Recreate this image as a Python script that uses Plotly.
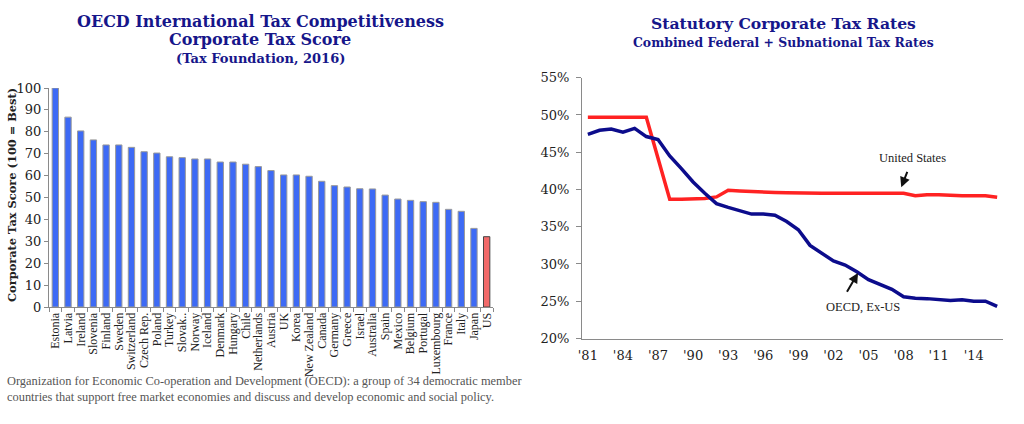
import plotly.graph_objects as go

# ---------------- Data ----------------
countries = ["Estonia", "Latvia", "Ireland", "Slovenia", "Finland", "Sweden", "Switzerland",
             "Czech Rep.", "Poland", "Turkey", "Slovak..", "Norway", "Iceland", "Denmark",
             "Hungary", "Chile", "Netherlands", "Austria", "UK", "Korea", "New Zealand",
             "Canada", "Germany", "Greece", "Israel", "Australia", "Spain", "Mexico",
             "Belgium", "Portugal", "Luxembourg", "France", "Italy", "Japan", "US"]
scores = [100, 86.7, 80.4, 76.3, 74.0, 74.0, 72.9, 70.9, 70.3, 68.6, 68.2, 67.6, 67.6, 66.2,
          66.2, 65.2, 64.1, 62.3, 60.3, 60.3, 59.7, 57.4, 55.4, 54.8, 54.0, 53.9, 51.1, 49.3,
          48.7, 48.1, 47.8, 44.6, 43.7, 35.9, 32.1]

years = list(range(1981, 2017))
us_rate = [49.7, 49.7, 49.7, 49.7, 49.7, 49.7, 44.2, 38.7, 38.7, 38.7, 38.8, 39.0, 39.9,
           39.8, 39.7, 39.6, 39.6, 39.55, 39.5, 39.5, 39.5, 39.5, 39.5, 39.5, 39.5, 39.5,
           39.5, 39.5, 39.15, 39.3, 39.3, 39.2, 39.15, 39.15, 39.15, 38.95]
oecd_rate = [47.4, 47.95, 48.1, 47.7, 48.2, 47.1, 46.7, 44.5, 42.8, 41.0, 39.5, 38.1, 37.6,
             37.1, 36.7, 36.7, 36.55, 35.7, 34.6, 32.5, 31.5, 30.4, 29.85, 28.95, 27.9, 27.3,
             26.6, 25.6, 25.4, 25.35, 25.2, 25.1, 25.2, 25.0, 25.0, 24.3]
x_tick_years = [1981, 1984, 1987, 1990, 1993, 1996, 1999, 2002, 2005, 2008, 2011, 2014]
x_tick_labels = ["'81", "'84", "'87", "'90", "'93", "'96", "'99", "'02", "'05", "'08", "'11", "'14"]
y_ticks_pct = [20, 25, 30, 35, 40, 45, 50, 55]

W, H = 1024, 424
NAVY = "#16168a"
SERIF = "DejaVu Serif"
TSERIF = "Liberation Serif"

def px(x):
    return x / W

def py(y):
    return 1 - y / H

bar_colors = ["#3d6af5"] * (len(countries) - 1) + ["#f26a6a"]
bar_lines = ["#9a9a9a"] * (len(countries) - 1) + ["#444444"]

fig = go.Figure()
fig.add_trace(go.Bar(x=countries, y=scores, marker=dict(color=bar_colors,
                     line=dict(color=bar_lines, width=1)), width=0.5,
                     xaxis="x", yaxis="y", showlegend=False))
fig.add_trace(go.Scatter(x=years, y=us_rate, mode="lines", line=dict(color="#ff2222", width=3.5),
                         xaxis="x2", yaxis="y2", showlegend=False))
fig.add_trace(go.Scatter(x=years, y=oecd_rate, mode="lines", line=dict(color="#0c0c8c", width=3.5),
                         xaxis="x2", yaxis="y2", showlegend=False))

axis_grey = "#8a8a8a"
fig.update_layout(
    width=W, height=H, margin=dict(l=0, r=0, t=0, b=0, autoexpand=False),
    paper_bgcolor="white", plot_bgcolor="white",
    xaxis=dict(domain=[px(49), px(493)], anchor="y", type="category", tickangle=-90,
               tickmode="linear", tick0=0, dtick=1,
               tickfont=dict(family=TSERIF, size=12, color="#222"), showline=True,
               linecolor=axis_grey, linewidth=1, ticks="outside", ticklen=4, tickcolor=axis_grey,
               tickson="boundaries", showgrid=False, range=[-0.5, 34.5], automargin=False),
    yaxis=dict(domain=[py(307), py(88)], anchor="x", range=[0, 100], dtick=10,
               tickfont=dict(family=SERIF, size=13, color="#222"), showline=True,
               linecolor=axis_grey, linewidth=1, ticks="outside", ticklen=4, tickcolor=axis_grey,
               showgrid=False, zeroline=False, automargin=False),
    xaxis2=dict(domain=[px(582), px(1003)], anchor="y2", range=[1980.5, 2016.5],
                tickvals=x_tick_years, ticktext=x_tick_labels, ticklabelstandoff=5,
                tickfont=dict(family=SERIF, size=13, color="#222"), showline=True,
                linecolor=axis_grey, linewidth=1, ticks="", showgrid=False, zeroline=False,
                automargin=False),
    yaxis2=dict(domain=[py(338.5), py(77.7)], anchor="x2", range=[20, 55],
                tickvals=y_ticks_pct, ticktext=[f"{v}%" for v in y_ticks_pct],
                ticklabelstandoff=4,
                tickfont=dict(family=SERIF, size=13, color="#222"), showline=True,
                linecolor=axis_grey, linewidth=1, ticks="outside", ticklen=5, tickcolor=axis_grey,
                showgrid=False, zeroline=False, automargin=False),
)

def label(xp, yp, text, size, color, family=SERIF, xanchor="center", angle=0):
    return dict(x=px(xp), y=py(yp), xref="paper", yref="paper", showarrow=False,
                xanchor=xanchor, yanchor="middle", textangle=angle, text=text,
                font=dict(family=family, size=size, color=color))

ann = [
    label(260, 21, "<b>OECD International Tax Competitiveness</b>", 16, NAVY),
    label(260, 40, "<b>Corporate Tax Score</b>", 16, NAVY),
    label(260, 58, "<b>(Tax Foundation, 2016)</b>", 13, NAVY),
    label(12, 195, "<b>Corporate Tax Score (100 = Best)</b>", 11.4, "#222", angle=-90),
    label(783, 24, "<b>Statutory Corporate Tax Rates</b>", 15.6, NAVY),
    label(783, 42, "<b>Combined Federal + Subnational Tax Rates</b>", 12.4, NAVY),
    label(912, 158, "United States", 12.5, "#222", family=TSERIF),
    label(863, 307, "OECD, Ex-US", 12.5, "#222", family=TSERIF),
]
ann.append(dict(x=2007.8, y=40.3, xref="x2", yref="y2",
                ax=9, ay=-23, axref="pixel", ayref="pixel",
                showarrow=True, arrowhead=2, arrowsize=1, arrowwidth=2, arrowcolor="#111"))
ann.append(dict(x=2004.1, y=28.8, xref="x2", yref="y2",
                ax=-14, ay=24, axref="pixel", ayref="pixel",
                showarrow=True, arrowhead=2, arrowsize=1, arrowwidth=2, arrowcolor="#111"))
foot = label(5, 389,
             "Organization for Economic Co-operation and Development (OECD): a group of 34 democratic member<br>"
             "countries that support free market economies and discuss and develop economic and social policy.",
             12.4, "#555", family=TSERIF, xanchor="left")
foot["align"] = "left"
ann.append(foot)
fig.update_layout(annotations=ann)

fig.write_html("out.html", config={"displayModeBar": False},
               post_script="document.body.style.margin='0';")
